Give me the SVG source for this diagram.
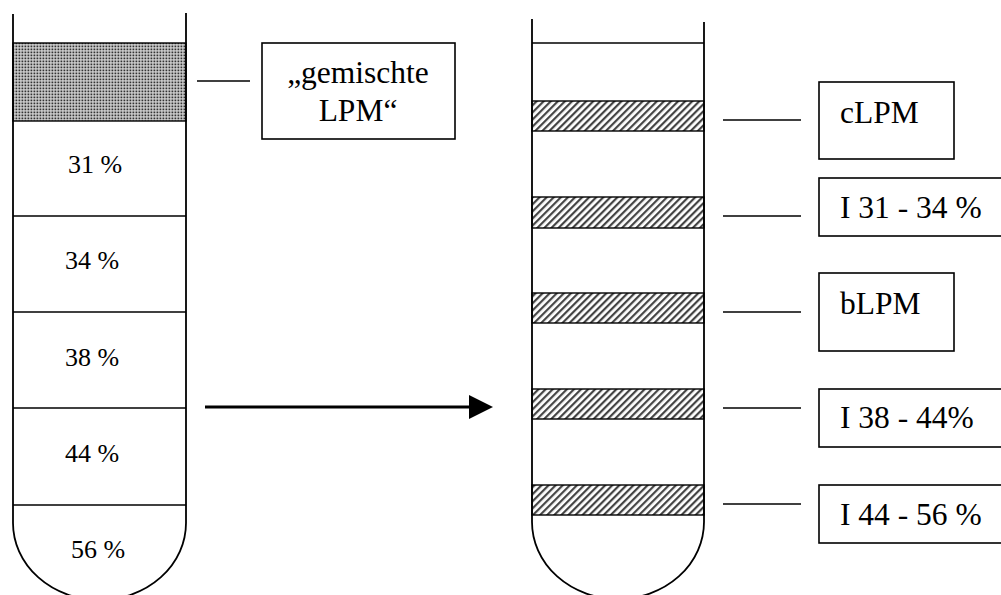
<svg xmlns="http://www.w3.org/2000/svg" width="1001" height="595" viewBox="0 0 1001 595">
<defs>
<pattern id="dots" width="3" height="3" patternUnits="userSpaceOnUse">
<rect width="3" height="3" fill="#d8d8d8"/>
<rect x="0.5" y="0.5" width="1.8" height="1.8" fill="#333"/>
</pattern>
<pattern id="hatch" width="5" height="5" patternUnits="userSpaceOnUse" patternTransform="rotate(45)">
<rect width="5" height="5" fill="#fff"/>
<rect x="0" y="0" width="2.2" height="5" fill="#444"/>
</pattern>
<marker id="ah" viewBox="0 0 10 10" refX="10" refY="5" markerWidth="24" markerHeight="24" markerUnits="userSpaceOnUse" orient="auto">
<path d="M0 0 L10 5 L0 10 Z" fill="#000"/>
</marker>
</defs>
<style>
.w{fill:none;stroke:#000;stroke-width:1.8}
.l{stroke:#000;stroke-width:1.4}
.b{fill:#fff;stroke:#000;stroke-width:1.6}
.t{font-family:"Liberation Serif","Times New Roman",serif;fill:#000}
.p{font-size:26px}
.q{font-size:31.5px}
</style>
<rect width="1001" height="595" fill="#fff"/>
<g id="tube-left">
<rect x="13" y="43" width="173" height="78" fill="url(#dots)" stroke="#000" stroke-width="1.4"/>
<line class="l" x1="13" y1="216" x2="186" y2="216"/>
<line class="l" x1="13" y1="312" x2="186" y2="312"/>
<line class="l" x1="13" y1="408" x2="186" y2="408"/>
<line class="l" x1="13" y1="505" x2="186" y2="505"/>
<path class="w" d="M13 14 V523 A86.5 77 0 0 0 186 523 V13"/>
<text class="t p" x="95" y="173" text-anchor="middle">31 %</text>
<text class="t p" x="92" y="269" text-anchor="middle">34 %</text>
<text class="t p" x="92" y="366" text-anchor="middle">38 %</text>
<text class="t p" x="92" y="462" text-anchor="middle">44 %</text>
<text class="t p" x="98" y="558" text-anchor="middle">56 %</text>
</g>
<g id="tube-right">
<line class="l" x1="532" y1="43" x2="704" y2="43"/>
<rect x="532" y="101" width="172" height="30" fill="url(#hatch)" stroke="#000" stroke-width="1.4"/>
<rect x="532" y="197" width="172" height="31" fill="url(#hatch)" stroke="#000" stroke-width="1.4"/>
<rect x="532" y="293" width="172" height="30" fill="url(#hatch)" stroke="#000" stroke-width="1.4"/>
<rect x="532" y="389" width="172" height="30" fill="url(#hatch)" stroke="#000" stroke-width="1.4"/>
<rect x="532" y="485" width="172" height="30" fill="url(#hatch)" stroke="#000" stroke-width="1.4"/>
<path class="w" d="M532 19 V522 A86 77 0 0 0 704 522 V22"/>
</g>
<g id="connectors">
<line class="l" x1="197" y1="81" x2="250" y2="81"/>
<line class="l" x1="723" y1="120" x2="801" y2="120"/>
<line class="l" x1="723" y1="216" x2="801" y2="216"/>
<line class="l" x1="723" y1="312" x2="801" y2="312"/>
<line class="l" x1="723" y1="408" x2="801" y2="408"/>
<line class="l" x1="723" y1="504" x2="801" y2="504"/>
<line x1="205" y1="407" x2="480" y2="407" stroke="#000" stroke-width="3"/>
<path d="M469 395 L493 407 L469 419 Z" fill="#000"/>
</g>
<g id="box-gemischte">
<rect class="b" x="262" y="43" width="193" height="96"/>
<text class="t q" x="358" y="83" text-anchor="middle">„gemischte</text>
<text class="t q" x="358" y="121" text-anchor="middle">LPM“</text>
</g>
<g id="box-cLPM">
<rect class="b" x="819" y="82" width="135" height="77"/>
<text class="t q" x="840" y="123">cLPM</text>
</g>
<g id="box-I31">
<rect class="b" x="819" y="178" width="200" height="58"/>
<text class="t q" x="840" y="218">I 31 - 34 %</text>
</g>
<g id="box-bLPM">
<rect class="b" x="819" y="273" width="135" height="78"/>
<text class="t q" x="840" y="314">bLPM</text>
</g>
<g id="box-I38">
<rect class="b" x="819" y="389" width="200" height="58"/>
<text class="t q" x="840" y="428">I 38 - 44%</text>
</g>
<g id="box-I44">
<rect class="b" x="819" y="485" width="200" height="58"/>
<text class="t q" x="840" y="525">I 44 - 56 %</text>
</g>
</svg>
